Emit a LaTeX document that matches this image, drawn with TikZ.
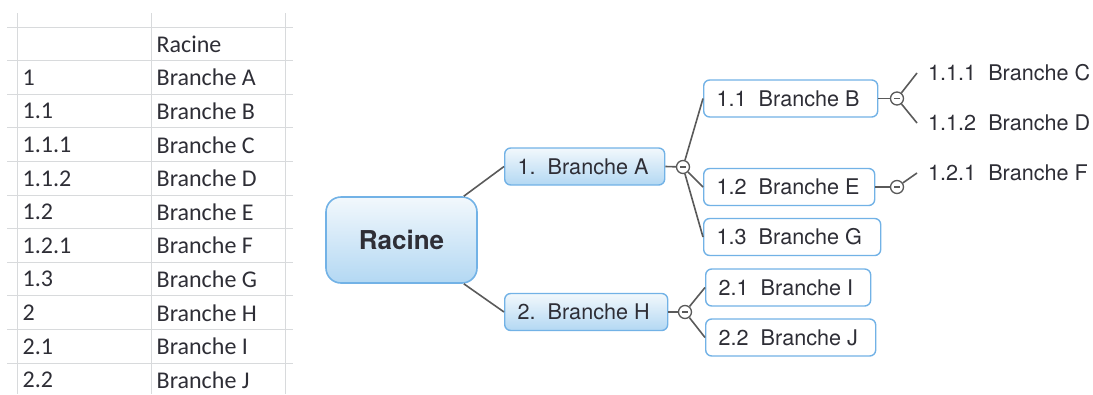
\documentclass[tikz,border=0pt]{standalone}
\usepackage{fontspec}
\setmainfont{TeX Gyre Heros}
\newfontfamily\gridfont{Carlito}
\usepackage{tikz}
\usetikzlibrary{positioning}
\definecolor{MapBlue}{HTML}{72B2E6}
\definecolor{MapTop}{HTML}{F2F8FC}
\definecolor{MapBottom}{HTML}{B3D8F3}
\definecolor{MapLine}{HTML}{5A5A5A}
\definecolor{MapText}{HTML}{2E2E36}
\definecolor{GridGray}{HTML}{D8DADC}
\newcommand{\boxtext}[2]{\makebox[#1][l]{#2}}
\tikzset{
	mapbox/.style={draw=MapBlue,line width=1.4pt,rounded corners=6pt,anchor=west,
		inner xsep=13pt,inner ysep=2pt,minimum height=37pt,text=MapText,font=\fontsize{21.6}{26}\selectfont},
	mainbox/.style={mapbox,top color=MapTop,bottom color=MapBottom},
	subbox/.style={mapbox,fill=white},
	rootbox/.style={draw=MapBlue,line width=1.6pt,rounded corners=15pt,top color=MapTop,bottom color=MapBottom,
		minimum width=151pt,minimum height=86pt,text=MapText,font=\fontsize{26}{30}\selectfont\bfseries},
	leaf/.style={anchor=west,inner xsep=4pt,text=MapText,font=\fontsize{21.6}{26}\selectfont},
	toggle/.style={circle,draw=MapLine,line width=1.3pt,fill=white,minimum size=13pt,inner sep=0pt,
		path picture={\draw[MapLine,line width=1.2pt] ([xshift=-3pt]path picture bounding box.center)
			-- ([xshift=3pt]path picture bounding box.center);}},
	link/.style={MapLine,line width=1.6pt},
	grid/.style={GridGray,line width=1pt},
	cell/.style={anchor=west,inner sep=0pt,text=MapText,font=\gridfont\fontsize{24}{28}\selectfont}
}

\begin{document}
\begin{tikzpicture}[x=1pt,y=-1pt]
		\useasboundingbox (0,0) rectangle (1093,394);
		% table
		\foreach \k in {0,...,10} \draw[grid] (7,{27+33.6*\k}) -- (293,{27+33.6*\k});
		\foreach \xv in {17,151,285} \draw[grid] (\xv,13) -- (\xv,394);
		\node[cell] (cell0) at (156.5,44) {Racine};
		\foreach \num/\txt [count=\r] in {1/Branche A,1.1/Branche B,1.1.1/Branche C,1.1.2/Branche D,1.2/Branche E,
			1.2.1/Branche F,1.3/Branche G,2/Branche H,2.1/Branche I,2.2/Branche J}{
			\node[cell] (num\r) at (22.5,{44+33.6*\r}) {\num};
			\node[cell] (cell\r) at (156.5,{44+33.6*\r}) {\txt};
		}
		% mind map
		\node[rootbox] (root) at (401.5,240) {Racine};
		\node[mainbox] (brA) at (504,166.5) {\boxtext{134pt}{1.\ \ Branche A}};
		\node[mainbox] (brH) at (504,312) {\boxtext{137pt}{2.\ \ Branche H}};
		\node[subbox] (brB) at (703,98.5) {\boxtext{148pt}{1.1\ \ Branche B}};
		\node[subbox] (brE) at (703,187) {\boxtext{145pt}{1.2\ \ Branche E}};
		\node[subbox] (brG) at (703,237) {\boxtext{151pt}{1.3\ \ Branche G}};
		\node[subbox] (brI) at (705,287.5) {\boxtext{139pt}{2.1\ \ Branche I}};
		\node[subbox] (brJ) at (705,337.5) {\boxtext{144pt}{2.2\ \ Branche J}};
		\node[leaf] (lfC) at (924,73) {1.1.1\ \ Branche C};
		\node[leaf] (lfD) at (924,123) {1.1.2\ \ Branche D};
		\node[leaf] (lfF) at (924,173) {1.2.1\ \ Branche F};
		\node[toggle] (tgA) at (683,167) {};
		\node[toggle] (tgH) at (685,312) {};
		\node[toggle] (tgB) at (897,98.5) {};
		\node[toggle] (tgE) at (897,187) {};
		\draw[link] ([xshift=-14pt]root.north east) -- (brA.west);
		\draw[link] ([xshift=-14pt]root.south east) -- (brH.west);
		\draw[link] (brA.east) -- (tgA);
		\foreach \c in {brB,brE,brG} \draw[link] (tgA) -- (\c.west);
		\draw[link] (brH.east) -- (tgH);
		\foreach \c in {brI,brJ} \draw[link] (tgH) -- (\c.west);
		\draw[link] (brB.east) -- (tgB);
		\foreach \c in {lfC,lfD} \draw[link] (tgB) -- ([xshift=-7pt]\c.west);
		\draw[link] (brE.east) -- (tgE);
		\draw[link] (tgE) -- ([xshift=-7pt]lfF.west);
	\end{tikzpicture}
\end{document}
